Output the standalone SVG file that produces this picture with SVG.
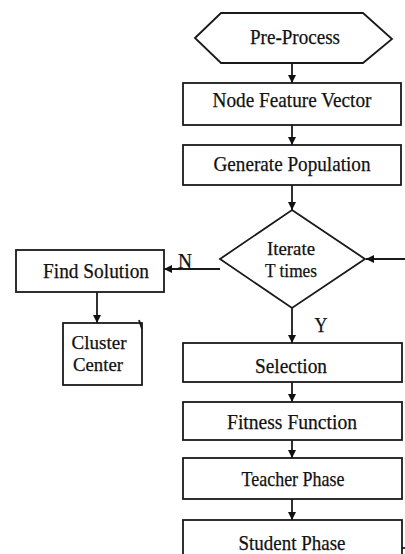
<svg xmlns="http://www.w3.org/2000/svg" width="405" height="554" viewBox="0 0 405 554">
<style>
.s{fill:#fff;stroke:#1a1a1a;stroke-width:1.8}
.t{font-family:"Liberation Serif","Times New Roman",serif;font-size:21px;fill:#111;stroke:#111;stroke-width:0.25;text-anchor:middle}
.m{font-size:18.5px}
.c{stroke:#1a1a1a;stroke-width:1.8;fill:none}
</style>
<defs>
<marker id="ah" viewBox="0 0 10 10" refX="10" refY="5" markerWidth="8" markerHeight="8" markerUnits="userSpaceOnUse" orient="auto">
<path d="M0,0 L10,5 L0,10 Z" fill="#111"/>
</marker>
</defs>
<rect width="405" height="554" fill="#fff"/>
<g id="connectors">
<line class="c" x1="292" y1="63" x2="292" y2="83" marker-end="url(#ah)"/>
<line class="c" x1="292" y1="125" x2="292" y2="145" marker-end="url(#ah)"/>
<line class="c" x1="292" y1="185" x2="292" y2="210" marker-end="url(#ah)"/>
<line class="c" x1="405" y1="259" x2="366" y2="259" marker-end="url(#ah)"/>
<line class="c" x1="220" y1="269" x2="164" y2="269" marker-end="url(#ah)"/>
<line class="c" x1="97" y1="292" x2="97" y2="323" marker-end="url(#ah)"/>
<line class="c" x1="292" y1="308" x2="292" y2="343" marker-end="url(#ah)"/>
<line class="c" x1="292" y1="382" x2="292" y2="402" marker-end="url(#ah)"/>
<line class="c" x1="292" y1="440" x2="292" y2="458" marker-end="url(#ah)"/>
<line class="c" x1="292" y1="499" x2="292" y2="520" marker-end="url(#ah)"/>
<text class="t" x="185" y="268" textLength="14" lengthAdjust="spacingAndGlyphs">N</text>
<text class="t" x="321" y="332" textLength="13" lengthAdjust="spacingAndGlyphs">Y</text>
</g>
<g id="preprocess">
<polygon class="s" points="195,38 221,13 363,13 392,39 363,63 221,63"/>
<text class="t" x="295" y="44" textLength="90" lengthAdjust="spacingAndGlyphs">Pre-Process</text>
</g>
<g id="nodefeature">
<rect class="s" x="183" y="83" width="218" height="42"/>
<text class="t" x="292" y="107" textLength="159" lengthAdjust="spacingAndGlyphs">Node Feature  Vector</text>
</g>
<g id="genpop">
<rect class="s" x="183" y="145" width="218" height="40"/>
<text class="t" x="292" y="171" textLength="157" lengthAdjust="spacingAndGlyphs">Generate Population</text>
</g>
<g id="iterate">
<polygon class="s" points="292,210 365,259 292,308 220,259"/>
<text class="t m" x="291" y="255" textLength="48" lengthAdjust="spacingAndGlyphs">Iterate</text>
<text class="t m" x="291" y="277" textLength="52" lengthAdjust="spacingAndGlyphs">T times</text>
</g>
<g id="findsolution">
<rect class="s" x="16" y="250" width="148" height="42"/>
<text class="t" x="96" y="278" textLength="106" lengthAdjust="spacingAndGlyphs">Find Solution</text>
</g>
<g id="clustercenter">
<rect class="s" x="63" y="323" width="79" height="62"/>
<line class="c" x1="139" y1="320" x2="142" y2="329" stroke-width="1.2"/>
<text class="t m" x="99" y="349" textLength="55" lengthAdjust="spacingAndGlyphs">Cluster</text>
<text class="t m" x="98" y="371" textLength="50" lengthAdjust="spacingAndGlyphs">Center</text>
</g>
<g id="selection">
<rect class="s" x="183" y="343" width="219" height="39"/>
<text class="t" x="291" y="373" textLength="72" lengthAdjust="spacingAndGlyphs">Selection</text>
</g>
<g id="fitness">
<rect class="s" x="183" y="402" width="219" height="38"/>
<text class="t" x="292" y="429" textLength="130" lengthAdjust="spacingAndGlyphs">Fitness Function</text>
</g>
<g id="teacher">
<rect class="s" x="183" y="458" width="219" height="41"/>
<text class="t" x="293" y="486" textLength="103" lengthAdjust="spacingAndGlyphs">Teacher Phase</text>
</g>
<g id="student">
<rect class="s" x="183" y="520" width="219" height="40"/>
<text class="t" x="292" y="550" textLength="107" lengthAdjust="spacingAndGlyphs">Student Phase</text>
<line class="c" x1="402" y1="548" x2="405" y2="548" stroke-width="1"/>
</g>
</svg>
